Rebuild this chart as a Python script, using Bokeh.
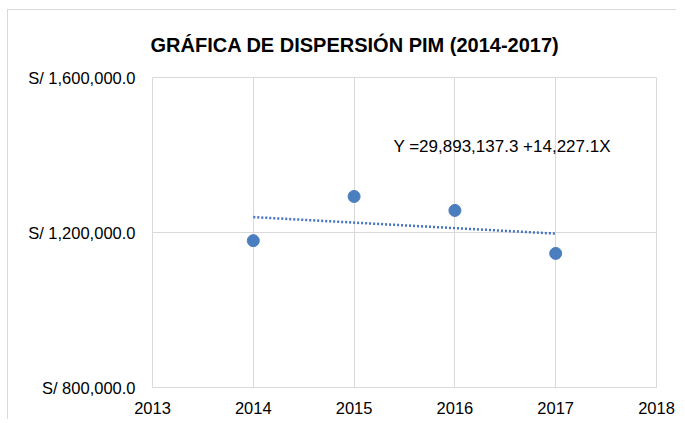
from bokeh.plotting import figure
from bokeh.models import FixedTicker, Range1d, Label
from bokeh.embed import file_html
from bokeh.resources import INLINE

years = [2014, 2015, 2016, 2017]
pim = [1179000, 1293000, 1257000, 1146000]
trend_intercept = 29893137.3
trend_slope = -14227.1
equation_text = "Y =29,893,137.3 +14,227.1X"
title_text = "GRÁFICA DE DISPERSIÓN PIM (2014-2017)"
x_ticks = [2013, 2014, 2015, 2016, 2017, 2018]
y_ticks = [800000, 1200000, 1600000]
y_tick_labels = ["S/ 800,000.0", "S/ 1,200,000.0", "S/ 1,600,000.0"]

p = figure(width=669, height=410, output_backend="svg", toolbar_location=None,
           x_range=Range1d(2013, 2018), y_range=Range1d(800000, 1600000),
           min_border_left=144, min_border_right=21, min_border_top=67, min_border_bottom=33)

p.title.text = title_text
p.title.align = "left"
p.title.offset = -2
p.title.text_font = "Liberation Sans"
p.title.text_font_size = "20px"
p.title.text_font_style = "bold"
p.title.text_color = "#000000"
p.title.standoff = 43

p.outline_line_color = "#d9d9d9"
p.background_fill_color = "white"
p.border_fill_color = "white"

for ax in (p.xaxis[0], p.yaxis[0]):
    ax.axis_line_color = None
    ax.major_tick_line_color = None
    ax.minor_tick_line_color = None
    ax.major_label_text_font = "Liberation Sans"
    ax.major_label_text_font_size = "16.5px"
    ax.major_label_text_color = "#000000"

p.xaxis.ticker = FixedTicker(ticks=x_ticks)
p.xaxis.major_label_overrides = {t: str(t) for t in x_ticks}
p.xaxis.major_label_standoff = 8
p.yaxis.ticker = FixedTicker(ticks=y_ticks)
p.yaxis.major_label_overrides = dict(zip(y_ticks, y_tick_labels))
p.yaxis.major_label_standoff = 11

p.xgrid.ticker = FixedTicker(ticks=x_ticks)
p.ygrid.ticker = FixedTicker(ticks=y_ticks)
p.xgrid.grid_line_color = "#d9d9d9"
p.ygrid.grid_line_color = "#d9d9d9"

tx = [years[0], years[-1]]
ty = [trend_intercept + trend_slope * x for x in tx]
p.line(tx, ty, line_color="#4472C4", line_width=2.5, line_dash="2 2")

p.scatter(years, pim, size=12, color="#4A7EBF", line_color="#4A7EBF")

p.add_layout(Label(x=2015.39, y=1422000, text=equation_text,
                   text_font="Liberation Sans", text_font_size="17px",
                   text_baseline="middle", text_color="#000000"))

p.styles = {"border-left": "1px solid #d9d9d9", "border-top": "1px solid #d9d9d9",
            "margin-left": "7px", "margin-top": "9px"}

open("out.html", "w").write(file_html(p, INLINE))
